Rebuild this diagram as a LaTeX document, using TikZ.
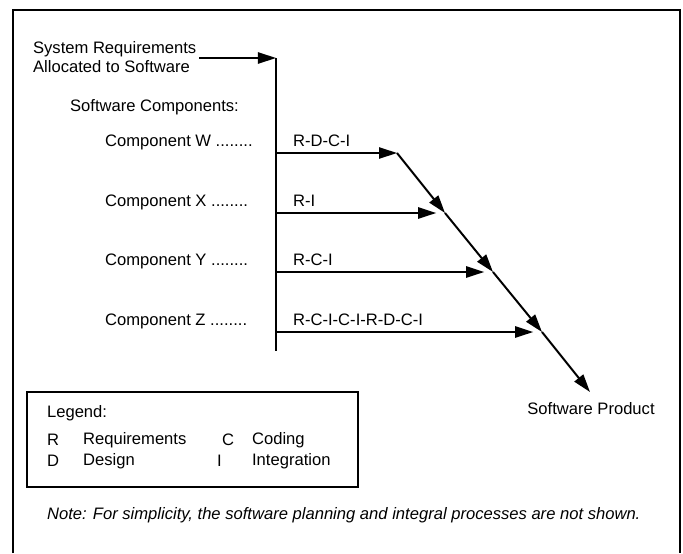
\documentclass[tikz,border=0pt]{standalone}
\usepackage{fontspec}
\setmainfont{Liberation Sans}
\usetikzlibrary{arrows.meta}

\begin{document}
\begin{tikzpicture}[x=0.025cm,y=-0.025cm,
  every node/.style={font=\fontsize{11.8}{14}\selectfont, inner sep=2pt},
  line/.style={line width=1.4pt},
  arr/.style={line width=1.4pt,-{Triangle[length=0.45cm,width=0.28cm]}}]
  \useasboundingbox (0,0) rectangle (683,553);
  % outer frame, open at the bottom
  \draw[line] (13,553) -- (13,10) -- (680,10) -- (680,553);
  % input and the common line
  \coordinate (top) at (276,58);
  \coordinate (bot) at (276,351);
  \node[anchor=west, align=left] (sysreq) at (30,57) {System Requirements\\Allocated to Software};
  \draw[arr] (sysreq.east |- top) -- (top);
  \draw[line] (top) -- (bot);
  \node[anchor=west] (swcomp) at (67,107) {Software Components:};
  % points on the merge line
  \coordinate (dW) at (397,153);
  \coordinate (dX) at (445,213);
  \coordinate (dY) at (493,272);
  \coordinate (dZ) at (542,332);
  \coordinate (dEnd) at (590,392);
  % components
  \foreach \n/\y/\steps/\sh in {W/153/R-D-C-I/0pt, X/213/R-I/2.2mm, Y/272/R-C-I/2.2mm, Z/332/R-C-I-C-I-R-D-C-I/2.2mm} {
    \node[anchor=west] (comp\n) at (102,\y-11) {Component \n\ ........};
    \coordinate (start\n) at (top |- 0,\y);
    \node[anchor=west] (steps\n) at (290,\y-12) {\steps};
    \draw[arr, shorten >=\sh] (start\n) -- (d\n);
  }
  % merge line down to the product
  \foreach \a/\b in {dW/dX, dX/dY, dY/dZ, dZ/dEnd} \draw[arr] (\a) -- (\b);
  \node (product) at (591,409) {Software Product};
  % legend
  \draw[line width=1pt] (27,392) rectangle (358,487);
  \node[anchor=west] (legend) at (44,413) {Legend:};
  \node[anchor=west] (kR) at (44,440) {R};
  \node[anchor=west] (tR) at (80,440) {Requirements};
  \node[anchor=west] (kC) at (219,440) {C};
  \node[anchor=west] (tC) at (249,440) {Coding};
  \node[anchor=west] (kD) at (44,461) {D};
  \node[anchor=west] (tD) at (80,461) {Design};
  \node[anchor=west] (kI) at (214,461) {I};
  \node[anchor=west] (tI) at (249,461) {Integration};
  % note
  \node[anchor=west] (note) at (44,515) {\itshape Note: For simplicity, the software planning and integral processes are not shown.};
\end{tikzpicture}
\end{document}
